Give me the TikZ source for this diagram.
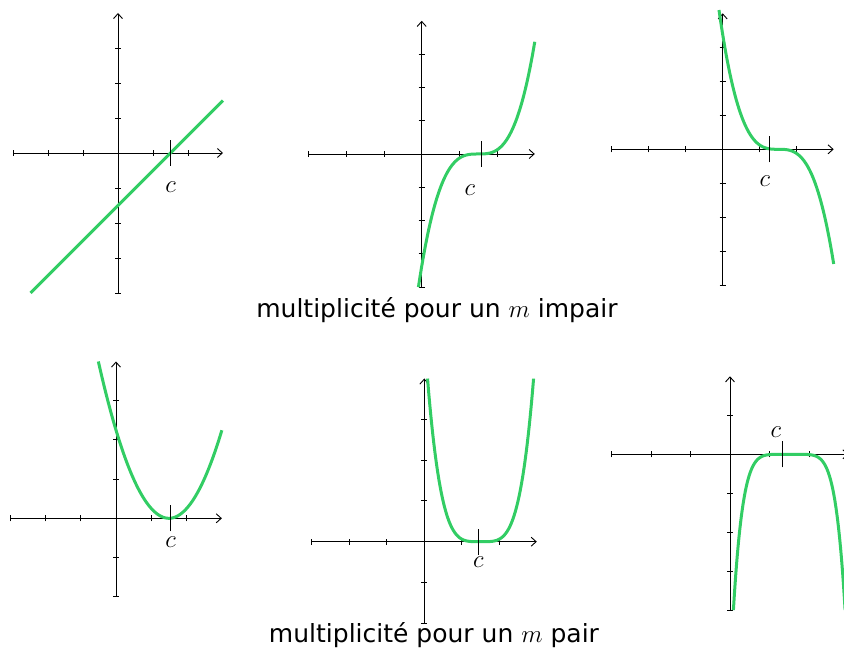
\documentclass[tikz,border=0pt]{standalone}
\usepackage{fontspec}
\setmainfont{DejaVu Sans}
\usetikzlibrary{arrows.meta}
\definecolor{curvegreen}{RGB}{50,205,100}
\begin{document}
\begin{tikzpicture}[x=1pt,y=1pt,
  axis/.style={line width=0.9pt,-{Straight Barb[length=5pt,width=9pt]}},
  tick/.style={line width=0.8pt},
  ctick/.style={line width=1pt},
  graph/.style={curvegreen,line width=3pt,smooth,samples=100},
  caption/.style={font=\fontsize{25}{29}\selectfont},
  clabel/.style={font=\fontsize{28}{32}\selectfont}]
\useasboundingbox (0,0) rectangle (844,648);

\begin{scope}[shift={(118,495)},x=35pt,y=35pt]
\draw[axis] (-3,0) -- (3,0);
\draw[axis] (0,-4) -- (0,4);
\foreach \i in {-3,...,2} \draw[tick] (\i,0) ++(0,-3pt) -- ++(0,6pt);
\foreach \j in {-4,...,3} \draw[tick] (0,\j) ++(-3pt,0) -- ++(6pt,0);
\draw[graph,domain=-2.5:3] plot (\x,{\x-1.5});
\draw[ctick] (1.5,0) ++(0,-13pt) -- ++(0,26pt);
\node[clabel] (c1) at (1.5,-0.97) {$c$};
\end{scope}

\begin{scope}[shift={(421.7,494)},x=37.7pt,y=33.3pt]
\draw[axis] (-3,0) -- (3,0);
\draw[axis] (0,-4) -- (0,4);
\foreach \i in {-3,...,2} \draw[tick] (\i,0) ++(0,-3pt) -- ++(0,6pt);
\foreach \j in {-4,...,3} \draw[tick] (0,\j) ++(-3pt,0) -- ++(6pt,0);
\draw[graph,domain=-0.087:3] plot (\x,{(\x-1.5)^3});
\draw[ctick] (1.58,0) ++(0,-13pt) -- ++(0,26pt);
\node[clabel] (c2) at (1.28,-1.08) {$c$};
\end{scope}

\begin{scope}[shift={(722.7,498.7)},x=37pt,y=34pt]
\draw[axis] (-3,0) -- (3,0);
\draw[axis] (0,-4) -- (0,4);
\foreach \i in {-3,...,2} \draw[tick] (\i,0) ++(0,-3pt) -- ++(0,6pt);
\foreach \j in {-4,...,3} \draw[tick] (0,\j) ++(-3pt,0) -- ++(6pt,0);
\draw[graph,domain=-0.1:3] plot (\x,{-(\x-1.5)^3});
\draw[ctick] (1.27,0) ++(0,-13pt) -- ++(0,26pt);
\node[clabel] (c3) at (1.14,-0.95) {$c$};
\end{scope}

\node[caption] (impair) at (437,338) {multiplicité pour un $m$ impair};

\begin{scope}[shift={(116,129.7)},x=35.3pt,y=39.2pt]
\draw[axis] (-3,0) -- (3,0);
\draw[axis] (0,-2) -- (0,4);
\foreach \i in {-3,...,2} \draw[tick] (\i,0) ++(0,-3pt) -- ++(0,6pt);
\foreach \j in {-2,...,3} \draw[tick] (0,\j) ++(-3pt,0) -- ++(6pt,0);
\draw[graph,domain=-0.5:3] plot (\x,{(\x-1.5)^2});
\draw[ctick] (1.55,0) ++(0,-13pt) -- ++(0,26pt);
\node[clabel] (c4) at (1.55,-0.62) {$c$};
\end{scope}

\begin{scope}[shift={(424.3,106.3)},x=37.5pt,y=40.8pt]
\draw[axis] (-3,0) -- (3,0);
\draw[axis] (0,-2) -- (0,4);
\foreach \i in {-3,...,2} \draw[tick] (\i,0) ++(0,-3pt) -- ++(0,6pt);
\foreach \j in {-2,...,3} \draw[tick] (0,\j) ++(-3pt,0) -- ++(6pt,0);
\draw[graph,domain=0.086:2.914] plot (\x,{(\x-1.5)^4});
\draw[ctick] (1.44,0) ++(0,-13pt) -- ++(0,26pt);
\node[clabel] (c5) at (1.44,-0.49) {$c$};
\end{scope}

\begin{scope}[shift={(730,193.7)},x=39.5pt,y=39pt]
\draw[axis] (-3,0) -- (3,0);
\draw[axis] (0,-4) -- (0,2);
\foreach \i in {-3,...,2} \draw[tick] (\i,0) ++(0,-3pt) -- ++(0,6pt);
\foreach \j in {-4,...,1} \draw[tick] (0,\j) ++(-3pt,0) -- ++(6pt,0);
\draw[graph,domain=0.086:2.914] plot (\x,{-0.5*(\x-1.5)^6});
\draw[ctick] (1.33,0) ++(0,-13pt) -- ++(0,26pt);
\node[clabel] (c6) at (1.16,0.58) {$c$};
\end{scope}

\node[caption] (pair) at (434,13) {multiplicité pour un $m$ pair};
\end{tikzpicture}
\end{document}
